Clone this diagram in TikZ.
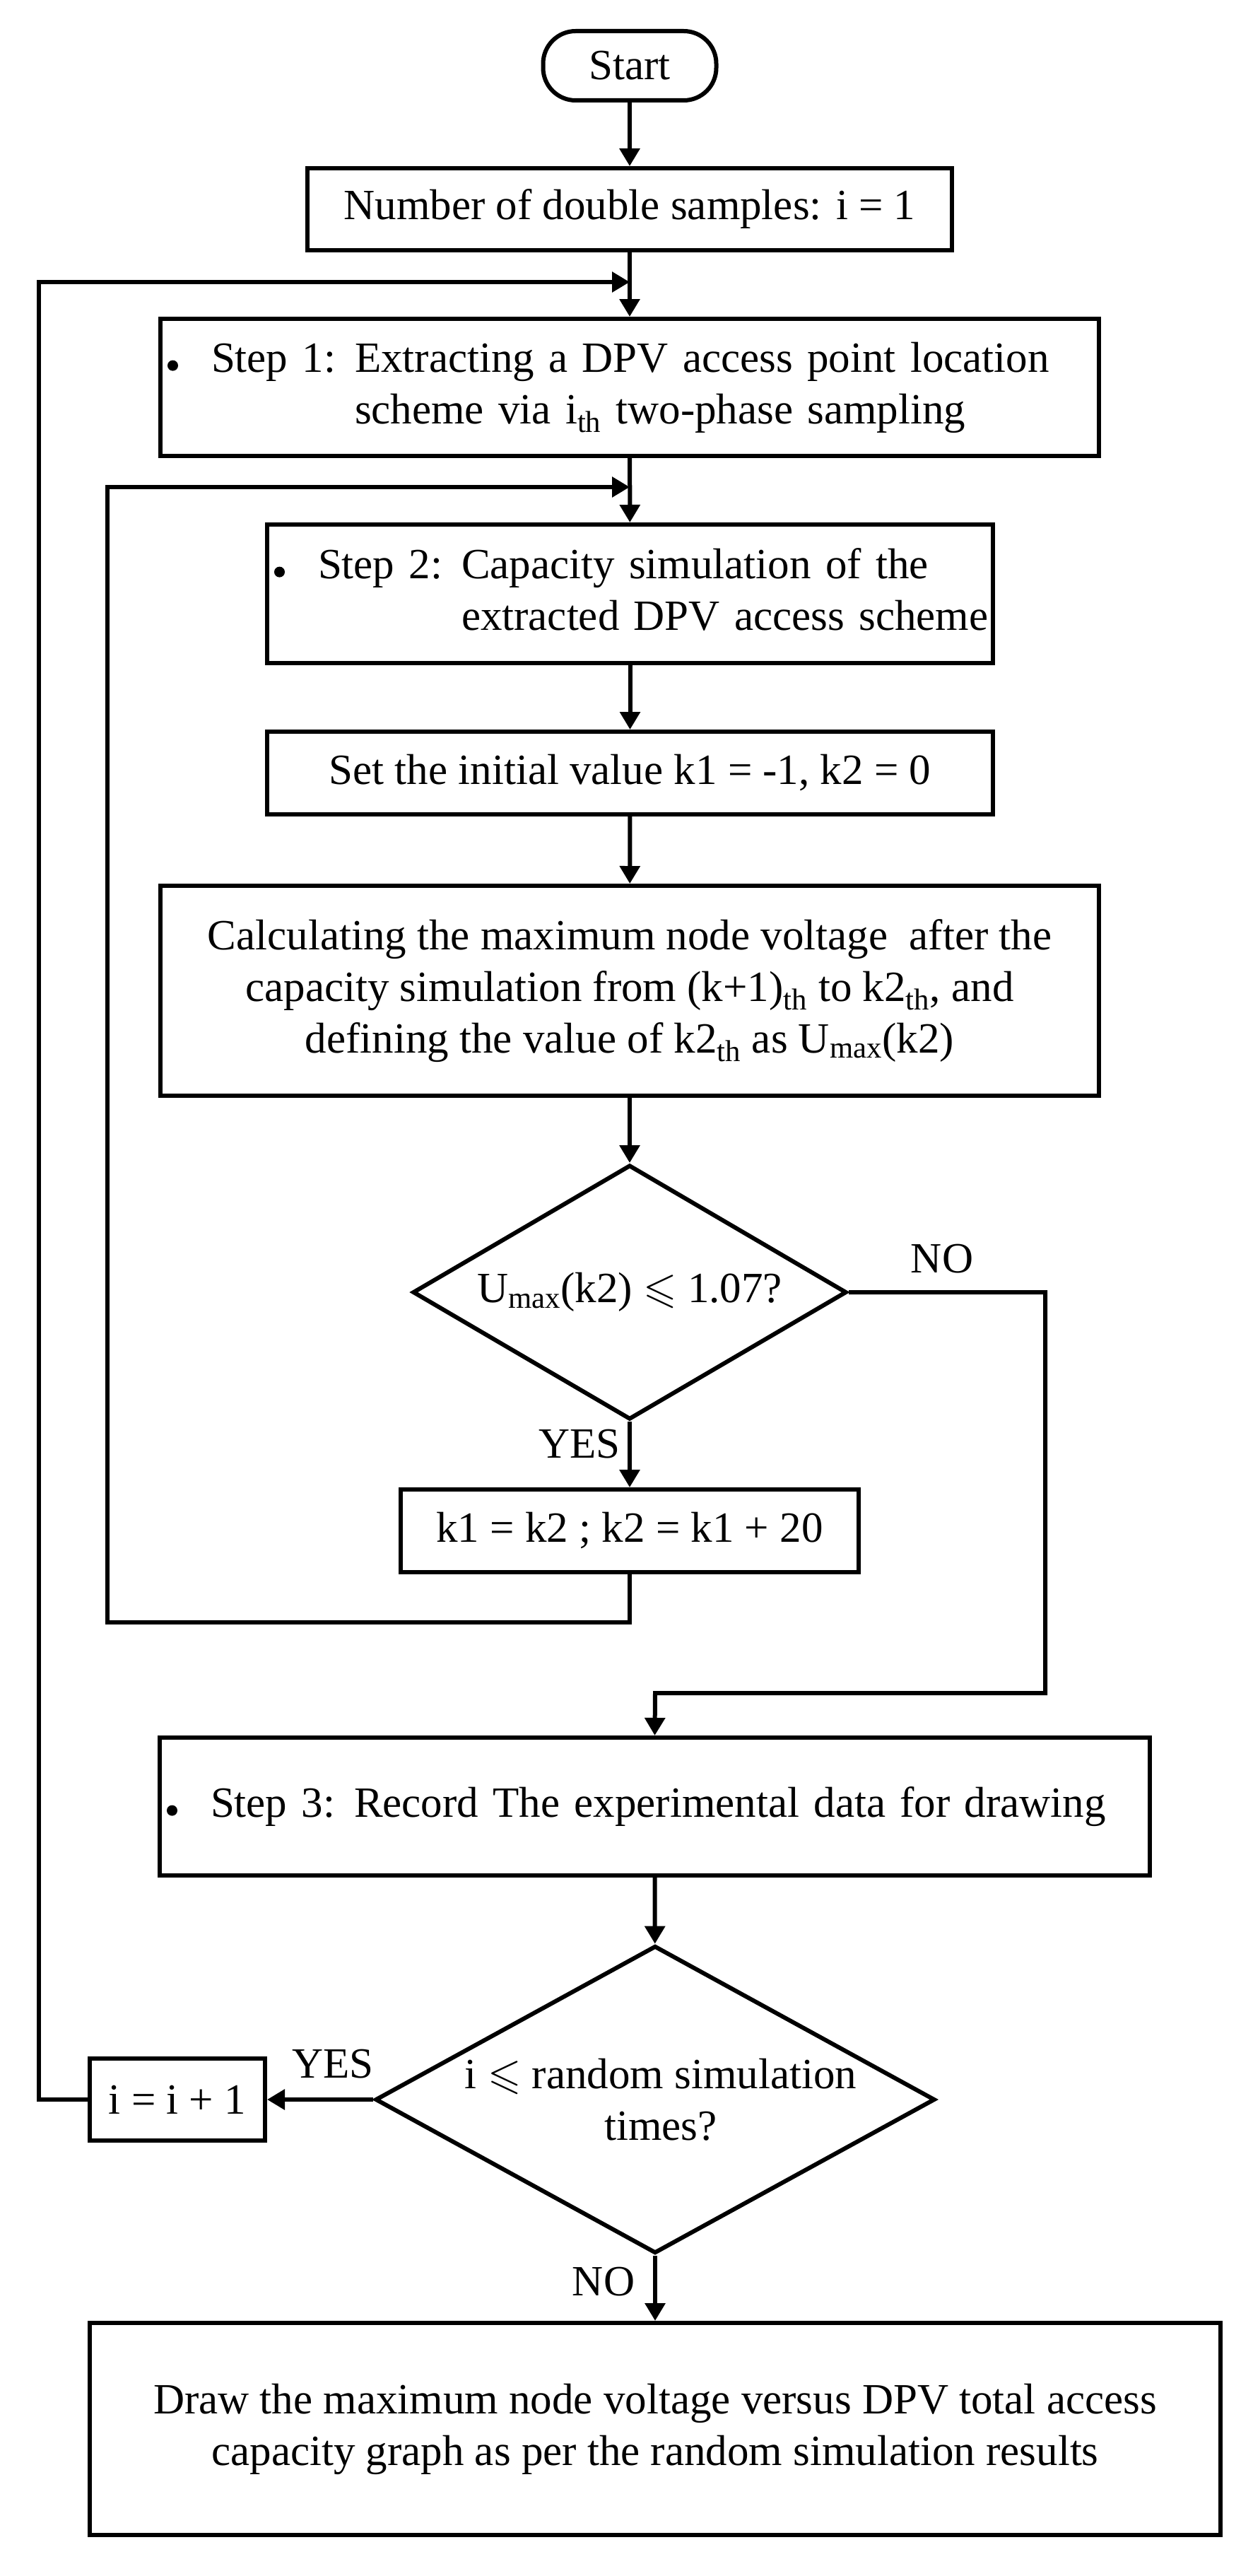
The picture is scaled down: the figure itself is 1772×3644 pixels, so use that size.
\documentclass[tikz,border=0pt]{standalone}
\usepackage{fontspec}
\setmainfont{Liberation Serif}
\usepackage{amssymb}
\usetikzlibrary{arrows.meta,shapes.geometric}
\newcommand{\stepbullet}{\tikz[baseline=0pt]\fill (0pt,4.5pt) circle (3.75pt);}
\newcommand{\steptwo}[3]{\noindent\begin{tabular}{@{\hspace{5pt}}p{31pt}@{}p{101.5pt}@{}l@{}}\stepbullet & #1 & #2\\ & & #3\end{tabular}}
\newcommand{\stepone}[2]{\noindent\begin{tabular}{@{\hspace{5pt}}p{31pt}@{}p{101.5pt}@{}l@{}}\stepbullet & #1 & #2\end{tabular}}
\begin{document}
\begin{tikzpicture}[x=0.5pt,y=-0.5pt,
  every node/.style={font=\fontsize{30.5}{36.5}\selectfont},
  box/.style={draw, line width=3pt, rectangle, inner sep=0pt, align=center},
  stepbox/.style={draw, line width=3pt, rectangle, inner sep=0pt, align=left},
  dia/.style={draw, line width=3pt, diamond, inner sep=0pt},
  lbl/.style={inner sep=0pt, align=center},
  arr/.style={line width=3pt, -{Triangle[length=12.5pt,width=14pt]}}]
\useasboundingbox (0,0) rectangle (1772,3644);

\node[box, rounded corners=23pt, minimum width=122.5pt, minimum height=49pt] (start) at (891,93) {Start};
\node[box, minimum width=456pt, minimum height=58pt] (box1) at (891,296) {Number of double samples: i = 1};
\node[stepbox, text width=664pt, minimum height=97pt] (step1) at (891,548)
  {\steptwo{Step 1:}{Extracting a DPV access point location}{scheme via i\textsubscript{th} two-phase sampling}};
\node[stepbox, text width=513.5pt, minimum height=98pt] (step2) at (891.5,840)
  {\steptwo{Step 2:}{Capacity simulation of the}{extracted DPV access scheme}};
\node[box, minimum width=513.5pt, minimum height=58.5pt] (set) at (891.5,1093.5) {Set the initial value k1 = -1, k2 = 0};
\node[box, minimum width=664pt, minimum height=148.5pt] (calc) at (891,1401.5)
  {Calculating the maximum node voltage\ \ after the\\capacity simulation from (k+1)\textsubscript{th} to k2\textsubscript{th}, and\\defining the value of k2\textsubscript{th} as U\textsubscript{max}(k2)};
\node[dia, minimum width=307pt, minimum height=180pt,
  label={[lbl]center:U\textsubscript{max}(k2) $\leqslant$ 1.07?}] (d1) at (891,1828) {};
\node[box, minimum width=324pt, minimum height=58.5pt] (k1) at (891,2165.5) {k1 = k2 ; k2 = k1 + 20};
\node[stepbox, text width=700.5pt, minimum height=97.5pt] (step3) at (926.5,2555.5)
  {\stepone{Step 3:}{Record The experimental data for drawing}};
\node[dia, minimum width=396pt, minimum height=217.5pt,
  label={[lbl, xshift=4pt]center:i $\leqslant$ random simulation\\times?}] (d2) at (927,2970) {};
\node[box, minimum width=124pt, minimum height=58pt] (ibox) at (251,2970) {i = i + 1};
\node[box, minimum width=800pt, minimum height=150pt] (final) at (927,3436)
  {Draw the maximum node voltage versus DPV total access\\capacity graph as per the random simulation results};

\node[lbl] (no1) at (1333,1781) {NO};
\node[lbl] (yes1) at (820,2043) {YES};
\node[lbl] (yes2) at (471,2920) {YES};
\node[lbl] (no2) at (854,3228) {NO};

\coordinate (j1) at (891,399);
\coordinate (j2) at (891,689);
\coordinate (o1) at (55,2970);
\coordinate (i1) at (891,2295);
\coordinate (i2) at (152,2295);
\coordinate (n1) at (1479,1828);
\coordinate (n2) at (1479,2395);
\coordinate (n3) at (927,2395);

\draw[arr] (start) -- (box1);
\draw[arr] (box1) -- (step1);
\draw[arr] (step1) -- (step2);
\draw[arr] (step2) -- (set);
\draw[arr] (set) -- (calc);
\draw[arr] (calc) -- (d1);
\draw[arr] (d1) -- (k1);
\draw[arr] (k1.south) -- (i1) -- (i2) |- (j2);
\draw[arr] (d1.east) -- (n1) -- (n2) -- (n3) -- (step3.north);
\draw[arr] (step3) -- (d2);
\draw[arr] (d2.west) -- (ibox.east);
\draw[arr] (ibox.west) -- (o1) |- (j1);
\draw[arr] (d2) -- (final);
\end{tikzpicture}
\end{document}
